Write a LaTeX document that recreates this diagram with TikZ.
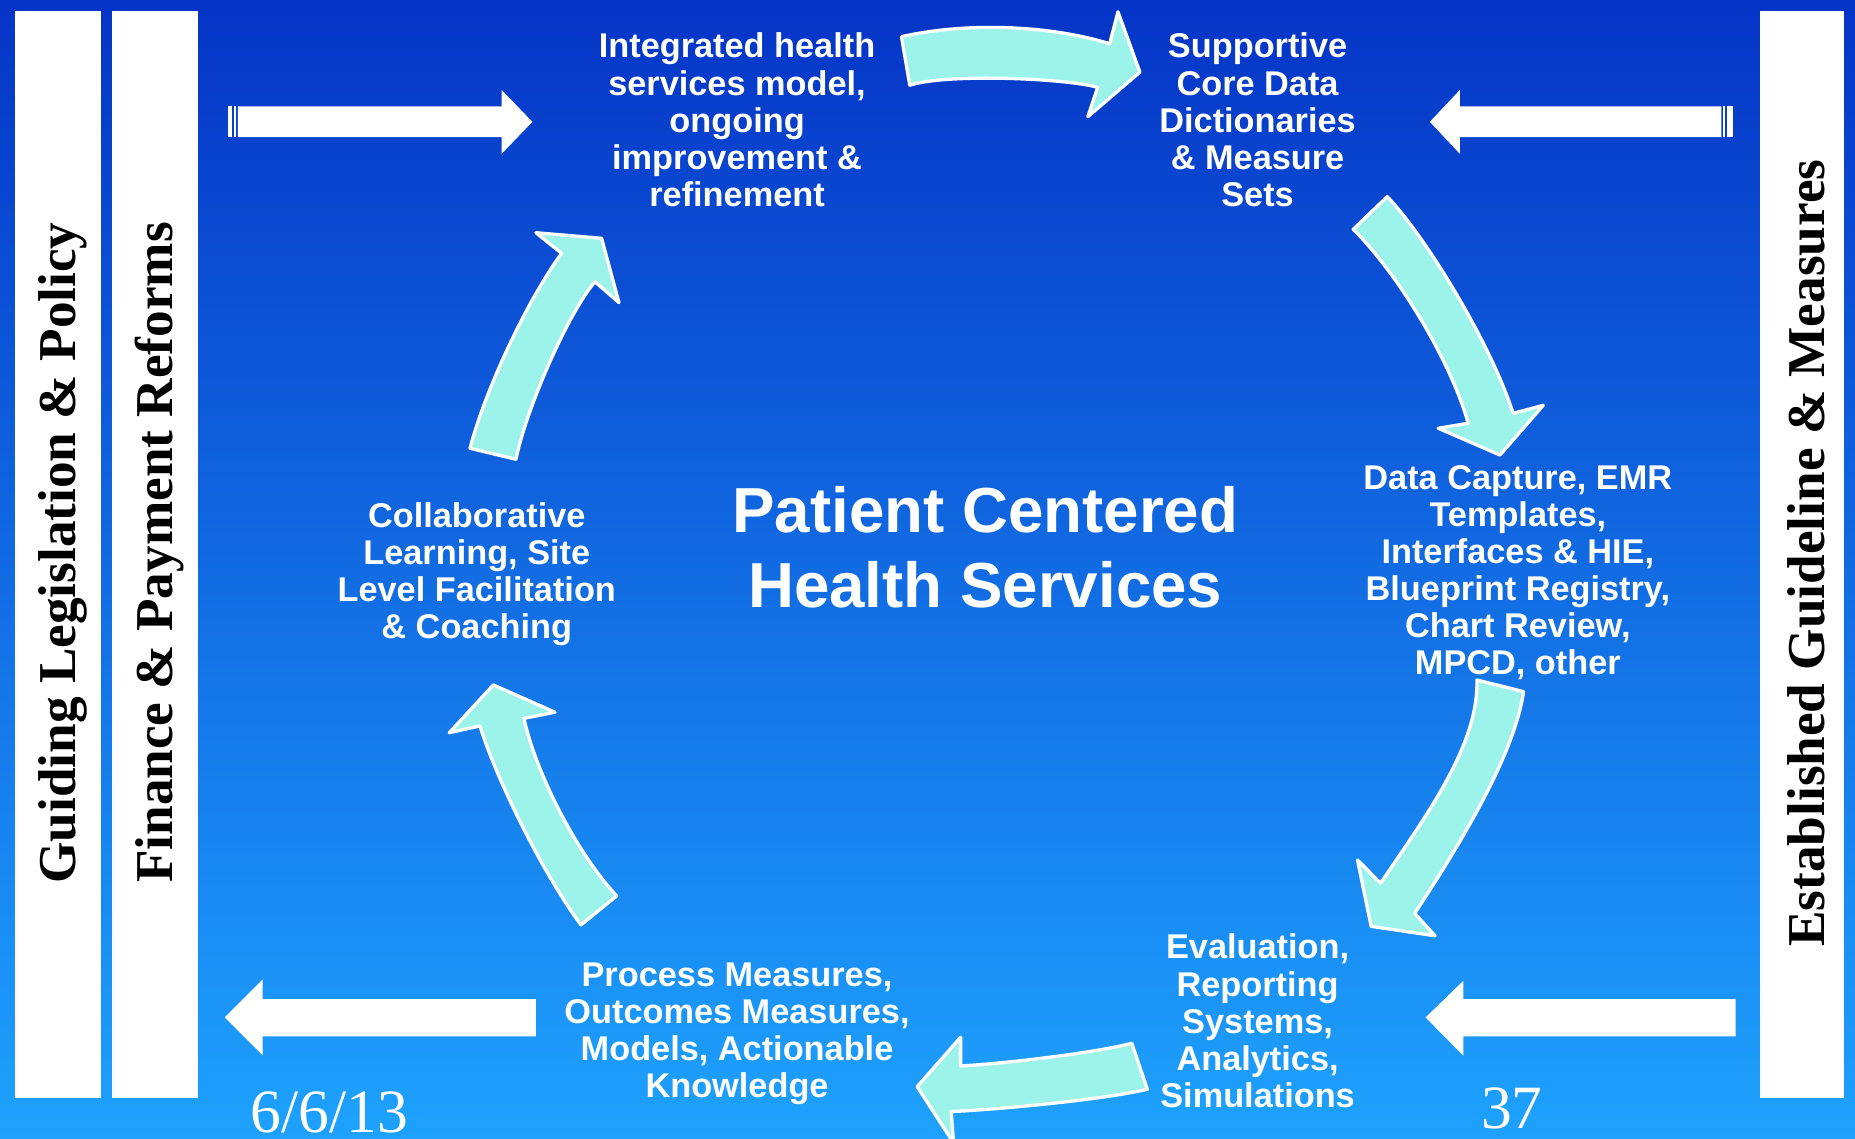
\documentclass[tikz,border=0pt]{standalone}
\usepackage{fontspec}
\setmainfont{Liberation Sans}
\newfontfamily\timesfont{Liberation Serif}

\definecolor{bgtop}{RGB}{5,52,198}
\definecolor{bgbottom}{RGB}{30,162,254}
\definecolor{aqua}{RGB}{155,243,234}

\tikzset{
  stagetext/.style={text=white, align=center, inner sep=0pt,
    font=\fontsize{29}{31.4}\selectfont\bfseries,
    execute at begin node=\strut, execute at end node=\strut},
  hubtext/.style={text=white, align=center, inner sep=0pt,
    font=\fontsize{53.8}{62.8}\selectfont\bfseries,
    execute at begin node=\strut, execute at end node=\strut},
  bartext/.style={text=black, rotate=90, inner sep=0pt,
    font=\timesfont\bfseries\fontsize{45}{50}\selectfont},
  foottext/.style={text=white, anchor=base, inner sep=0pt,
    font=\timesfont\fontsize{52}{56}\selectfont},
  cyclearrow/.style={fill=aqua, draw=white, line width=2.8pt, line join=round},
}

\begin{document}
\begin{tikzpicture}[x=1pt, y=-1pt]
    % Background
    \shade[top color=bgtop, bottom color=bgbottom] (0,0) rectangle (1568,962);
    \useasboundingbox (0,0) rectangle (1568,962);
    \clip (0,0) rectangle (1568,962);

    % Side bars
    \fill[white] (13,9) rectangle (85,928);
    \fill[white] (95,9) rectangle (167,928);
    \fill[white] (1488,9) rectangle (1559,928);
    \node[bartext] (policy) at (53,467.5) {Guiding Legislation \& Policy};
    \node[bartext] (reforms) at (135,467) {Finance \& Payment Reforms};
    \node[bartext] (guideline) at (1527,467.5) {Established Guideline \& Measures};

    % Stages
    \node[stagetext] (integrated) at (623,106) {Integrated health\\services model,\\ongoing\\improvement \&\\refinement};
    \node[stagetext] (supportive) at (1063,106) {Supportive\\Core Data\\Dictionaries\\\& Measure\\Sets};
    \node[stagetext] (capture) at (1283,486.5) {Data Capture, EMR\\Templates,\\Interfaces \& HIE,\\Blueprint Registry,\\Chart Review,\\MPCD, other};
    \node[stagetext] (evaluation) at (1063,867.5) {Evaluation,\\Reporting\\Systems,\\Analytics,\\Simulations};
    \node[stagetext] (process) at (623,875.5) {Process Measures,\\Outcomes Measures,\\Models, Actionable\\Knowledge};
    \node[stagetext] (collab) at (403,486.8) {Collaborative\\Learning, Site\\Level Facilitation\\\& Coaching};
    \node[hubtext] (patient) at (832.8,471.8) {Patient Centered\\Health Services};

    % Footer
    \node[foottext] (date) at (278.5,957) {6/6/13};
    \node[foottext] (slide) at (1278,954) {37};

    % Inputs from the bars
    \fill[white] (193,90) rectangle (196,116);
    \fill[white] (197.5,90) rectangle (199.5,116);
    \fill[white] (201,90) -- (424,90) -- (424,76) -- (450,103) -- (424,130) -- (424,116) -- (201,116) -- cycle;
    \fill[white] (1465,90) rectangle (1460,116);
    \fill[white] (1458.5,90) rectangle (1456.5,116);
    \fill[white] (1455,90) -- (1234,90) -- (1234,76) -- (1208.6,103) -- (1234,130) -- (1234,116) -- (1455,116) -- cycle;
    \fill[white] (1467,844.6) -- (1237,844.6) -- (1237,829) -- (1205,860) -- (1237,892.5) -- (1237,876) -- (1467,876) -- cycle;
    % Output to the bars
    \fill[white] (453,844.6) -- (222,844.6) -- (222,828) -- (190,860) -- (222,892) -- (222,876) -- (453,876) -- cycle;

    % Cycle arrows
    \draw[cyclearrow] (762,31) .. controls (820,18) and (890,22) .. (938,37)
      -- (945,10) -- (963.5,61) -- (919.6,98.6) -- (927.8,73.8)
      .. controls (900,66) and (800,62) .. (769,72) -- cycle;
    \draw[cyclearrow] (1172.6,166.2) .. controls (1205,200) and (1260,290) .. (1279,349.4)
      -- (1304.5,342.6) -- (1267.9,384.6) -- (1215.7,362) -- (1241,357.8)
      .. controls (1228,310) and (1185,235) .. (1143.9,193.8) -- cycle;
    \draw[cyclearrow] (1287.8,584.6) .. controls (1280,640) and (1230,720) .. (1195.8,772)
      -- (1213,791) -- (1159,783) -- (1147.5,727) -- (1167,746.6)
      .. controls (1205,690) and (1250,630) .. (1248.4,574.8) -- cycle;
    \draw[cyclearrow] (956.7,881.9) .. controls (925,890) and (850,899) .. (812,901)
      -- (812,876.8) -- (775.3,918.5) -- (806,966) -- (804,939.6)
      .. controls (840,938) and (930,930) .. (969.8,920.7) -- cycle;
    \draw[cyclearrow] (521.2,757.3) .. controls (485,718) and (452,650) .. (442.9,607.2)
      -- (469.1,602) -- (417,579) -- (379.8,619.3) -- (405.7,613.6)
      .. controls (420,660) and (460,740) .. (491.1,781.8) -- cycle;
    \draw[cyclearrow] (397.3,378.9) .. controls (410,330) and (445,255) .. (474.7,214.1)
      -- (453,196.7) -- (508.5,201.4) -- (523.2,255.8) -- (502.9,238.1)
      .. controls (480,265) and (445,345) .. (436.1,388.2) -- cycle;
\end{tikzpicture}
\end{document}
